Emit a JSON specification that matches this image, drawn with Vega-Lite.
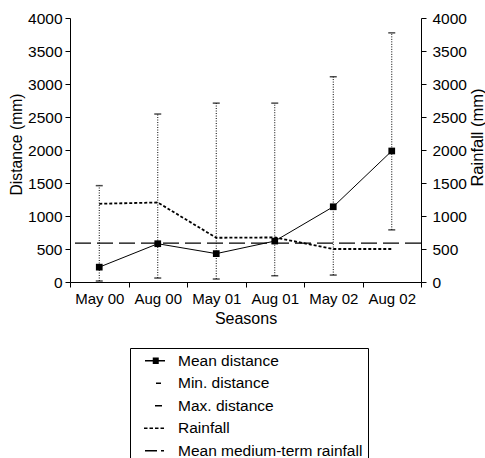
{
  "$schema": "https://vega.github.io/schema/vega-lite/v6.json",
  "width": 351,
  "height": 264,
  "autosize": {"type": "none"},
  "padding": {"left": 70, "top": 18, "right": 64, "bottom": 176},
  "config": {
    "font": "Liberation Sans",
    "view": {"stroke": null},
    "axis": {
      "grid": false,
      "domainColor": "black",
      "tickColor": "black",
      "labelColor": "black",
      "titleColor": "black",
      "titleFontWeight": "normal",
      "tickSize": 5,
      "domainWidth": 1,
      "tickWidth": 1,
      "labelOverlap": false,
      "labelFlush": false
    },
    "legend": {"strokeWidth": 1}
  },
  "datasets": {
    "seasons": [
      {"season": "May 00", "mean": 225, "min": 15, "max": 1460, "rain": 1185},
      {"season": "Aug 00", "mean": 580, "min": 60, "max": 2545, "rain": 1205},
      {"season": "May 01", "mean": 430, "min": 45, "max": 2710, "rain": 670},
      {"season": "Aug 01", "mean": 620, "min": 95, "max": 2710, "rain": 675},
      {"season": "May 02", "mean": 1140, "min": 105, "max": 3110, "rain": 500},
      {"season": "Aug 02", "mean": 1985, "min": 790, "max": 3775, "rain": 500}
    ],
    "normal": [{"value": 590}],
    "legend": [
      {"entry": "Mean distance"},
      {"entry": "Min. distance"},
      {"entry": "Max. distance"},
      {"entry": "Rainfall"},
      {"entry": "Mean medium-term rainfall"}
    ]
  },
  "layer": [
    {
      "layer": [
        {
          "data": {"name": "seasons"},
          "mark": {"type": "rule", "color": "black", "strokeWidth": 1, "strokeDash": [1, 1.5]},
          "encoding": {
            "x": {"field": "season", "type": "nominal", "sort": ["May 00", "Aug 00", "May 01", "Aug 01", "May 02", "Aug 02"], "scale": {"type": "band", "paddingInner": 0, "paddingOuter": 0},
              "axis": {"title": "Seasons", "tickBand": "extent", "labelAngle": 0, "labelFontSize": 15, "labelPadding": 4, "titleFontSize": 16, "titlePadding": 4}},
            "y": {"field": "min", "type": "quantitative", "scale": {"domain": [0, 4000], "nice": false},
              "axis": {"title": "Distance (mm)", "orient": "left", "format": "d", "values": [0, 500, 1000, 1500, 2000, 2500, 3000, 3500, 4000], "tickCount": 20, "labelOverlap": false, "labelBound": false, "labelFontSize": 15.5, "labelPadding": 3, "titleFontSize": 15.7, "titleX": -49, "titleY": 126, "titleAngle": 270, "titleBaseline": "alphabetic", "titleAlign": "center"}},
            "y2": {"field": "max"}
          }
        },
        {
          "data": {"name": "seasons"},
          "mark": {"type": "tick", "color": "black", "size": 7, "thickness": 1.5},
          "encoding": {
            "x": {"field": "season", "type": "nominal", "sort": ["May 00", "Aug 00", "May 01", "Aug 01", "May 02", "Aug 02"]},
            "y": {"field": "min", "type": "quantitative", "title": "Distance (mm)"}
          }
        },
        {
          "data": {"name": "seasons"},
          "mark": {"type": "tick", "color": "black", "size": 7, "thickness": 1.5},
          "encoding": {
            "x": {"field": "season", "type": "nominal", "sort": ["May 00", "Aug 00", "May 01", "Aug 01", "May 02", "Aug 02"]},
            "y": {"field": "max", "type": "quantitative", "title": "Distance (mm)"}
          }
        },
        {
          "data": {"name": "seasons"},
          "mark": {"type": "line", "color": "black", "strokeWidth": 1},
          "encoding": {
            "x": {"field": "season", "type": "nominal", "sort": ["May 00", "Aug 00", "May 01", "Aug 01", "May 02", "Aug 02"]},
            "y": {"field": "mean", "type": "quantitative", "title": "Distance (mm)"}
          }
        },
        {
          "data": {"name": "seasons"},
          "mark": {"type": "point", "shape": "square", "filled": true, "color": "black", "size": 45, "opacity": 1},
          "encoding": {
            "x": {"field": "season", "type": "nominal", "sort": ["May 00", "Aug 00", "May 01", "Aug 01", "May 02", "Aug 02"]},
            "y": {"field": "mean", "type": "quantitative", "title": "Distance (mm)"}
          }
        },
        {
          "data": {"name": "legend"},
          "mark": {"type": "point", "filled": false, "color": "black", "size": 100, "opacity": 0, "strokeWidth": 1.5},
          "encoding": {
            "shape": {
              "field": "entry", "type": "nominal",
              "scale": {
                "domain": ["Mean distance", "Min. distance", "Max. distance", "Rainfall", "Mean medium-term rainfall"],
                "range": [
                  "M0.45,0H4.45M2,-0.5H3.2M2,-0.25H3.2M2,0.25H3.2M2,0.5H3.2",
                  "M2.65,0H3.65",
                  "M2.45,0H3.85",
                  "M0.25,0H0.95M1.35,0H2.05M2.45,0H3.15M3.55,0H4.25",
                  "M0.45,0H2.85M3.65,0H4.25"
                ]
              },
              "legend": {
                "title": null,
                "orient": "none",
                "legendX": 60,
                "legendY": 330,
                "padding": 5,
                "strokeColor": "black",
                "symbolSize": 100,
                "symbolStrokeWidth": 1.5,
                "symbolStrokeColor": "black",
                "symbolOpacity": 1,
                "labelFontSize": 15.5,
                "labelColor": "black",
                "labelOffset": 27.5,
                "labelLimit": 400,
                "rowPadding": 5.5
              }
            }
          }
        }
      ]
    },
    {
      "layer": [
        {
          "data": {"name": "seasons"},
          "mark": {"type": "line", "color": "black", "strokeWidth": 1.8, "strokeDash": [3, 2]},
          "encoding": {
            "x": {"field": "season", "type": "nominal", "sort": ["May 00", "Aug 00", "May 01", "Aug 01", "May 02", "Aug 02"]},
            "y": {"field": "rain", "type": "quantitative", "scale": {"domain": [0, 4000], "nice": false},
              "axis": {"title": "Rainfall (mm)", "orient": "right", "format": "d", "values": [0, 500, 1000, 1500, 2000, 2500, 3000, 3500, 4000], "tickCount": 20, "labelOverlap": false, "labelBound": false, "labelFontSize": 15.5, "labelPadding": 6, "titleFontSize": 16.5, "titleX": 61, "titleY": 119, "titleAngle": 270, "titleBaseline": "alphabetic", "titleAlign": "center"}}
          }
        },
        {
          "data": {"name": "normal"},
          "mark": {"type": "rule", "color": "black", "strokeWidth": 1.3, "strokeDash": [16, 6]},
          "encoding": {
            "y": {"field": "value", "type": "quantitative", "title": "Rainfall (mm)"}
          }
        }
      ]
    }
  ],
  "resolve": {"scale": {"y": "independent"}, "axis": {"y": "independent"}}
}
